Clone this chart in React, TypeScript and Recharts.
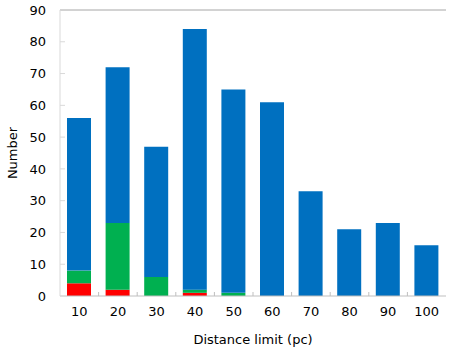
import React from "react";
import { BarChart, Bar, XAxis, YAxis, ReferenceLine } from "recharts";

const distances = [10, 20, 30, 40, 50, 60, 70, 80, 90, 100];
const redValues = [4, 2, 0, 1, 0, 0, 0, 0, 0, 0];
const greenValues = [4, 21, 6, 1, 1, 0, 0, 0, 0, 0];
const blueValues = [48, 49, 41, 82, 64, 61, 33, 21, 23, 16];
const yTicks = [0, 10, 20, 30, 40, 50, 60, 70, 80, 90];
const xTicks = [10, 15, 20, 25, 30, 35, 40, 45, 50, 55, 60, 65, 70, 75, 80, 85, 90, 95, 100];

const data = distances.map((d, i) => ({
  d,
  red: redValues[i],
  green: greenValues[i],
  blue: blueValues[i],
}));

const FONT = "'DejaVu Sans', Verdana, sans-serif";

const XTick = (props: any) => {
  const { x, y, payload } = props;
  const v = payload.value;
  if (v % 10 === 0) {
    return (
      <text x={x} y={y + 11} dy="0.71em" textAnchor="middle" fontSize={13} fontFamily={FONT} fill="#000">
        {v}
      </text>
    );
  }
  return <line x1={x} x2={x} y1={y} y2={y - 4} stroke="#bfbfbf" strokeWidth={1} />;
};

const YTick = (props: any) => {
  const { x, y, payload } = props;
  return (
    <g>
      <text x={x - 14} y={y} dy="0.355em" textAnchor="end" fontSize={13} fontFamily={FONT} fill="#000">
        {payload.value}
      </text>
      {payload.value !== 0 && payload.value !== 90 && (
        <line x1={x} x2={x + 5} y1={y} y2={y} stroke="#d9d9d9" strokeWidth={1} />
      )}
    </g>
  );
};

export default function App() {
  return (
    <div style={{ position: "absolute", left: 0, top: 0 }}>
      <BarChart
        width={452}
        height={352}
        data={data}
        margin={{ top: 10, right: 6, bottom: 0, left: 0 }}
        barCategoryGap={0}
      >
        <XAxis
          dataKey="d"
          type="number"
          domain={[5, 105]}
          ticks={xTicks}
          interval={0}
          tick={<XTick />}
          tickLine={false}
          tickSize={0}
          tickMargin={0}
          height={56}
          stroke="#bfbfbf"
          allowDataOverflow
          label={{
            value: "Distance limit (pc)",
            position: "insideBottom",
            offset: 8,
            fontSize: 13,
            fontFamily: FONT,
            fill: "#000",
          }}
        />
        <YAxis
          type="number"
          domain={[0, 90]}
          ticks={yTicks}
          interval={0}
          width={60}
          tick={<YTick />}
          tickLine={false}
          tickSize={0}
          tickMargin={0}
          stroke="#d9d9d9"
          label={{
            value: "Number",
            angle: -90,
            position: "insideLeft",
            offset: 12,
            fontSize: 13,
            fontFamily: FONT,
            fill: "#000",
            style: { textAnchor: "middle" },
          }}
        />
        <ReferenceLine y={90} stroke="#a6a6a6" />
        <Bar dataKey="red" stackId="s" fill="#FF0000" barSize={24} isAnimationActive={false} />
        <Bar dataKey="green" stackId="s" fill="#00B050" barSize={24} isAnimationActive={false} />
        <Bar dataKey="blue" stackId="s" fill="#0070C0" barSize={24} isAnimationActive={false} />
      </BarChart>
    </div>
  );
}
